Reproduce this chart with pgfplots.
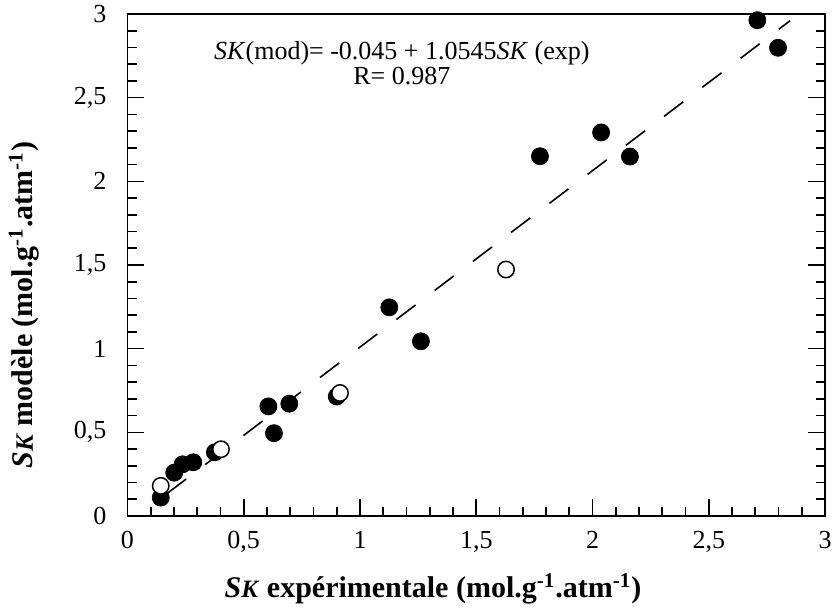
\documentclass[border=0pt]{standalone}
\usepackage{fontspec}
\setmainfont{Liberation Serif}
\usepackage{pgfplots}
\pgfplotsset{compat=1.18}
\newcommand{\SKb}{\textit{S{\fontsize{12.5}{12.5}\selectfont K}}}
\newcommand{\SKn}{\textit{SK}}
\begin{document}
\begin{tikzpicture}
\begin{axis}[
  name=ax,
  scale only axis,
  width=348.75pt, height=251pt,
  xmin=0, xmax=3, ymin=0, ymax=3,
  clip=false,
  axis line style={line width=0.8pt},
  xtick={0,0.5,1,1.5,2,2.5,3},
  xticklabels={0,{0,5},1,{1,5},2,{2,5},3},
  ytick={0,0.5,1,1.5,2,2.5,3},
  yticklabels={0,{0,5},1,{1,5},2,{2,5},3},
  minor tick num=4,
  tick align=inside,
  xtick pos=left,
  ytick pos=both,
  major tick length=8.3pt,
  minor tick length=4.5pt,
  every tick/.style={line width=0.8pt, black},
  /pgf/number format/assume math mode=true,
  tick label style={font=\fontsize{13}{13}\selectfont},
  xticklabel style={yshift=-4pt},
  yticklabel style={xshift=-7pt},
  xlabel={\bfseries\SKb{} expérimentale (mol.g\textsuperscript{-1}.atm\textsuperscript{-1})},
  ylabel={\bfseries\SKb{} modèle (mol.g\textsuperscript{-1}.atm\textsuperscript{-1})},
  label style={font=\fontsize{15}{15}\selectfont},
  xlabel style={at={(axis description cs:0.438,-0.163)}, anchor=base},
  ylabel style={at={(axis description cs:-0.1355,0.42)}, anchor=base},
]
% regression line
\addplot[black, line width=0.8pt, dash pattern=on 12pt off 12pt] coordinates {(0.17,0.134) (2.85,2.960)};
% filled circles
\addplot[only marks, mark=*, mark size=4.25pt, mark options={fill=black, draw=black}] coordinates {
(0.143,0.110) (0.201,0.259) (0.237,0.309) (0.283,0.321) (0.376,0.381)
(0.606,0.655) (0.696,0.671) (0.630,0.495) (0.900,0.714)
(1.126,1.247) (1.262,1.044) (1.774,2.150) (2.037,2.292) (2.161,2.148)
(2.709,2.963) (2.798,2.798)
};
% open circles
\addplot[only marks, mark=*, mark size=4.1pt, mark options={fill=white, draw=black, line width=0.75pt}] coordinates {
(0.143,0.180) (0.402,0.399) (0.914,0.735) (1.628,1.473)
};
\node[anchor=base, font=\fontsize{13}{13}\selectfont] at (axis cs:1.18,2.73) {\SKn(mod)= -0.045 + 1.0545\SKn{} (exp)};
\node[anchor=base, font=\fontsize{13}{13}\selectfont] at (axis cs:1.18,2.58) {R= 0.987};
\end{axis}
\pgfresetboundingbox
\path[use as bounding box] ([shift={(-63.75pt,-48.5pt)}]ax.south west) rectangle ([shift={(4.5pt,7pt)}]ax.north east);
\end{tikzpicture}
\end{document}
